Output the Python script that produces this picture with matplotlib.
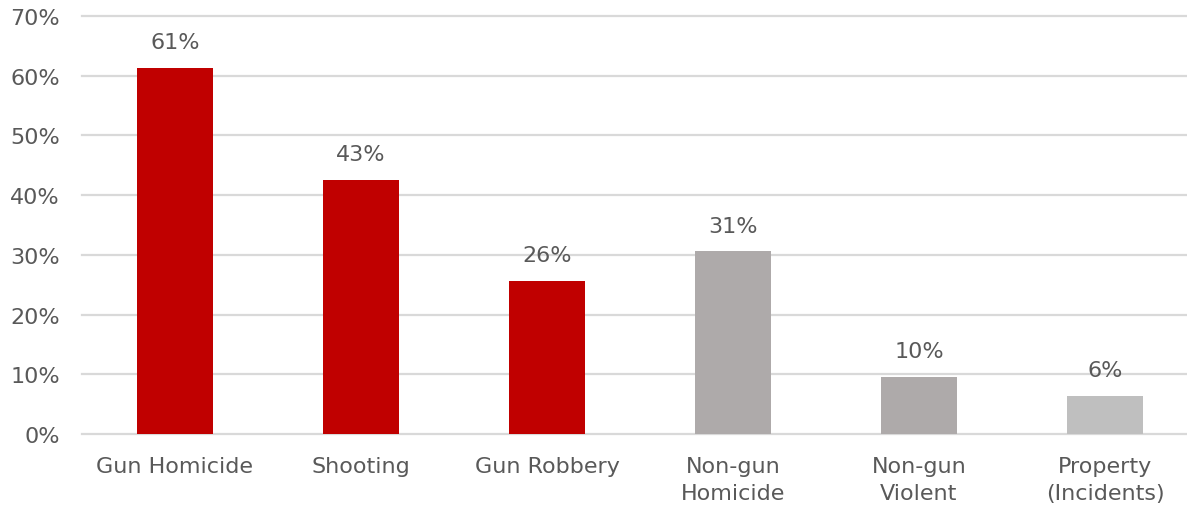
import matplotlib
matplotlib.use("Agg")
import matplotlib.pyplot as plt
from matplotlib.ticker import FuncFormatter

categories = ["Gun Homicide", "Shooting", "Gun Robbery", "Non-gun\nHomicide", "Non-gun\nViolent", "Property\n(Incidents)"]
values = [61.3, 42.6, 25.7, 30.6, 9.6, 6.4]
labels = ["61%", "43%", "26%", "31%", "10%", "6%"]
colors = ["#C00000", "#C00000", "#C00000", "#AEAAAA", "#AEAAAA", "#BFBFBF"]

plt.rcParams['font.family'] = ['DejaVu Sans']
txt = "#595959"
fs = 16

fig = plt.figure(figsize=(11.87, 5.06), dpi=100)
ax = fig.add_axes([82/1187, 71/506, 1105/1187, 418/506])
x = list(range(len(categories)))
ax.bar(x, values, width=0.41, color=colors, zorder=3)
for xi, v, l in zip(x, values, labels):
    ax.text(xi, v + 2.6, l, ha="center", va="bottom", fontsize=fs, color=txt)
ax.set_ylim(0, 70)
ax.set_xlim(-0.5, -0.5 + 1105/186)
yt = list(range(0, 71, 10))
ax.set_yticks(yt)
ax.yaxis.set_major_formatter(FuncFormatter(lambda v, p: f"{int(v)}%"))
ax.set_xticks(x)
ax.set_xticklabels(categories, fontsize=fs, color=txt, linespacing=1.45)
ax.tick_params(axis="y", labelsize=fs, labelcolor=txt, length=0, pad=16)
ax.tick_params(axis="x", length=0, pad=16)
for y in yt:
    ax.axhline(y, color="#D9D9D9", linewidth=1.6, zorder=0, clip_on=False)
for s in ax.spines.values():
    s.set_visible(False)
fig.savefig("out.png", dpi=100)
